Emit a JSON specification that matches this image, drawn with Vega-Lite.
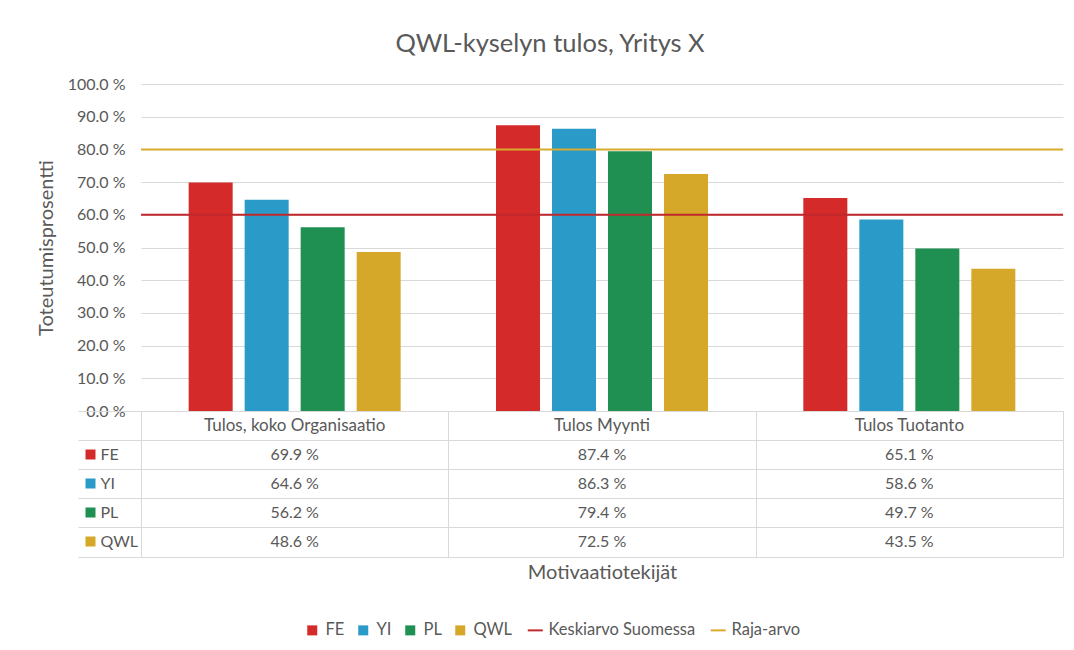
{
  "$schema": "https://vega.github.io/schema/vega-lite/v6.json",
  "padding": {"left": 36, "top": 32, "right": 10, "bottom": 10},
  "background": "white",
  "title": {"text": "QWL-kyselyn tulos, Yritys X", "font": "Lato", "fontSize": 25.5, "fontWeight": "normal", "color": "#595959", "offset": 18.5, "anchor": "middle"},
  "datasets": {
    "bars": [
      {"cat": "Tulos, koko Organisaatio", "series": "FE", "value": 69.9},
      {"cat": "Tulos, koko Organisaatio", "series": "YI", "value": 64.6},
      {"cat": "Tulos, koko Organisaatio", "series": "PL", "value": 56.2},
      {"cat": "Tulos, koko Organisaatio", "series": "QWL", "value": 48.6},
      {"cat": "Tulos Myynti", "series": "FE", "value": 87.4},
      {"cat": "Tulos Myynti", "series": "YI", "value": 86.3},
      {"cat": "Tulos Myynti", "series": "PL", "value": 79.4},
      {"cat": "Tulos Myynti", "series": "QWL", "value": 72.5},
      {"cat": "Tulos Tuotanto", "series": "FE", "value": 65.1},
      {"cat": "Tulos Tuotanto", "series": "YI", "value": 58.6},
      {"cat": "Tulos Tuotanto", "series": "PL", "value": 49.7},
      {"cat": "Tulos Tuotanto", "series": "QWL", "value": 43.5}
    ],
    "refs": [
      {"series": "Keskiarvo Suomessa", "value": 60},
      {"series": "Raja-arvo", "value": 80}
    ]
  },
  "spacing": 0,
  "bounds": "flush",
  "resolve": {"scale": {"color": "shared", "x": "independent", "y": "independent"}, "legend": {"color": "shared"}},
  "vconcat": [
    {
      "width": 922,
      "height": 327,
      "encoding": {
        "y": {"field": "value", "type": "quantitative", "scale": {"domain": [0, 100]},
          "axis": {"values": [0, 10, 20, 30, 40, 50, 60, 70, 80, 90, 100], "labelOverlap": false, "labelExpr": "format(abs(datum.value), '.1f') + ' %'", "title": "Toteutumisprosentti", "titleFontSize": 20, "titleFontWeight": "normal", "titleColor": "#595959", "titlePadding": 11, "labelFontSize": 16, "labelColor": "#595959", "labelPadding": 16, "ticks": false, "domain": false, "gridColor": "#d9d9d9"}},
        "color": {"field": "series", "type": "nominal",
          "scale": {"domain": ["FE", "YI", "PL", "QWL", "Keskiarvo Suomessa", "Raja-arvo"], "range": ["#d42a2a", "#2a9bc9", "#1f9051", "#d5a829", "#c0282d", "#d8aa2e"]},
          "legend": {"orient": "bottom", "direction": "horizontal", "title": " ", "titleOrient": "right", "titlePadding": 100, "titleFontSize": 4, "labelFont": "Lato", "labelFontSize": 16.5, "labelColor": "#595959", "symbolSize": 100, "columnPadding": 10, "labelOffset": 5, "offset": 38.5,
            "encode": {"symbols": {"update": {
              "shape": {"signal": "(datum.value === 'Keskiarvo Suomessa' || datum.value === 'Raja-arvo') ? 'stroke' : 'square'"},
              "fill": {"signal": "(datum.value === 'Keskiarvo Suomessa' || datum.value === 'Raja-arvo') ? 'transparent' : scale('color', datum.value)"},
              "stroke": {"signal": "scale('color', datum.value)"},
              "strokeWidth": {"signal": "(datum.value === 'Keskiarvo Suomessa' || datum.value === 'Raja-arvo') ? 2 : 0"},
              "size": {"signal": "(datum.value === 'Keskiarvo Suomessa' || datum.value === 'Raja-arvo') ? 225 : 100"},
              "opacity": {"value": 1}
            }}}}
        }
      },
      "layer": [
        {
          "data": {"name": "bars"},
          "mark": {"type": "bar"},
          "encoding": {
            "x": {"field": "cat", "type": "nominal", "sort": ["Tulos, koko Organisaatio", "Tulos Myynti", "Tulos Tuotanto"], "scale": {"paddingInner": 0, "paddingOuter": 0}, "axis": null},
            "xOffset": {"field": "series", "type": "nominal", "sort": ["FE", "YI", "PL", "QWL"], "scale": {"paddingInner": 0.2143, "paddingOuter": 0.851}}
          }
        },
        {
          "data": {"name": "refs"},
          "mark": {"type": "rule", "strokeWidth": 2},
          "encoding": {}
        }
      ]
    },
    {
      "width": 922,
      "height": 145.5,
      "data": {"name": "bars"},
      "resolve": {"axis": {"y": "independent"}},
      "layer": [
        {
          "transform": [{"aggregate": [{"op": "count", "as": "n"}], "groupby": ["cat"]}],
          "mark": {"type": "text", "fontSize": 17, "color": "#595959", "font": "Lato"},
          "encoding": {
            "x": {"field": "cat", "type": "nominal", "sort": ["Tulos, koko Organisaatio", "Tulos Myynti", "Tulos Tuotanto"], "scale": {"paddingInner": 0, "paddingOuter": 0},
              "axis": {"orient": "bottom", "tickBand": "extent", "grid": true, "gridColor": "#d9d9d9", "ticks": false, "labels": false, "domain": false, "title": "Motivaatiotekijät", "titleFontSize": 20, "titleFontWeight": "normal", "titleColor": "#595959", "titlePadding": 6}},
            "y": {"datum": "header", "type": "nominal", "scale": {"domain": ["header", "FE", "YI", "PL", "QWL"], "paddingInner": 0, "paddingOuter": 0},
              "axis": {"orient": "left", "offset": 46, "tickSize": 10, "tickWidth": 10, "tickCap": "butt", "domain": false, "grid": false, "labelAlign": "left", "labelPadding": -15, "labelBaseline": "middle", "labelFontSize": 16, "labelColor": "#595959", "labelExpr": "datum.value === 'header' ? '' : datum.value", "title": null,
                "tickColor": {"condition": [
                  {"test": "datum.value === 'FE'", "value": "#d42a2a"},
                  {"test": "datum.value === 'YI'", "value": "#2a9bc9"},
                  {"test": "datum.value === 'PL'", "value": "#1f9051"},
                  {"test": "datum.value === 'QWL'", "value": "#d5a829"}
                ], "value": "transparent"}}},
            "text": {"field": "cat"}
          }
        },
        {
          "transform": [{"calculate": "format(datum.value, '.1f') + ' %'", "as": "label"}],
          "mark": {"type": "text", "fontSize": 16, "color": "#595959", "font": "Lato"},
          "encoding": {
            "x": {"field": "cat", "type": "nominal", "sort": ["Tulos, koko Organisaatio", "Tulos Myynti", "Tulos Tuotanto"]},
            "y": {"field": "series", "type": "nominal", "scale": {"domain": ["header", "FE", "YI", "PL", "QWL"]},
              "axis": {"orient": "left", "offset": 63, "tickBand": "extent", "tickExtra": false, "tickSize": -63, "tickColor": "#d9d9d9", "labels": false, "domain": false, "grid": false, "title": null}},
            "text": {"field": "label"}
          }
        },
        {
          "mark": {"type": "text", "opacity": 0},
          "encoding": {
            "x": {"field": "cat", "type": "nominal", "sort": ["Tulos, koko Organisaatio", "Tulos Myynti", "Tulos Tuotanto"]},
            "y": {"field": "series", "type": "nominal", "scale": {"domain": ["header", "FE", "YI", "PL", "QWL"]},
              "axis": {"orient": "right", "tickBand": "extent", "grid": true, "gridColor": "#d9d9d9", "ticks": false, "labels": false, "domain": false, "title": null}},
            "text": {"value": ""}
          }
        }
      ]
    }
  ],
  "config": {
    "view": {"stroke": null},
    "font": "Lato",
    "axis": {"labelFont": "Lato", "titleFont": "Lato"},
    "legend": {"layout": {"bottom": {"anchor": "middle"}}}
  }
}
